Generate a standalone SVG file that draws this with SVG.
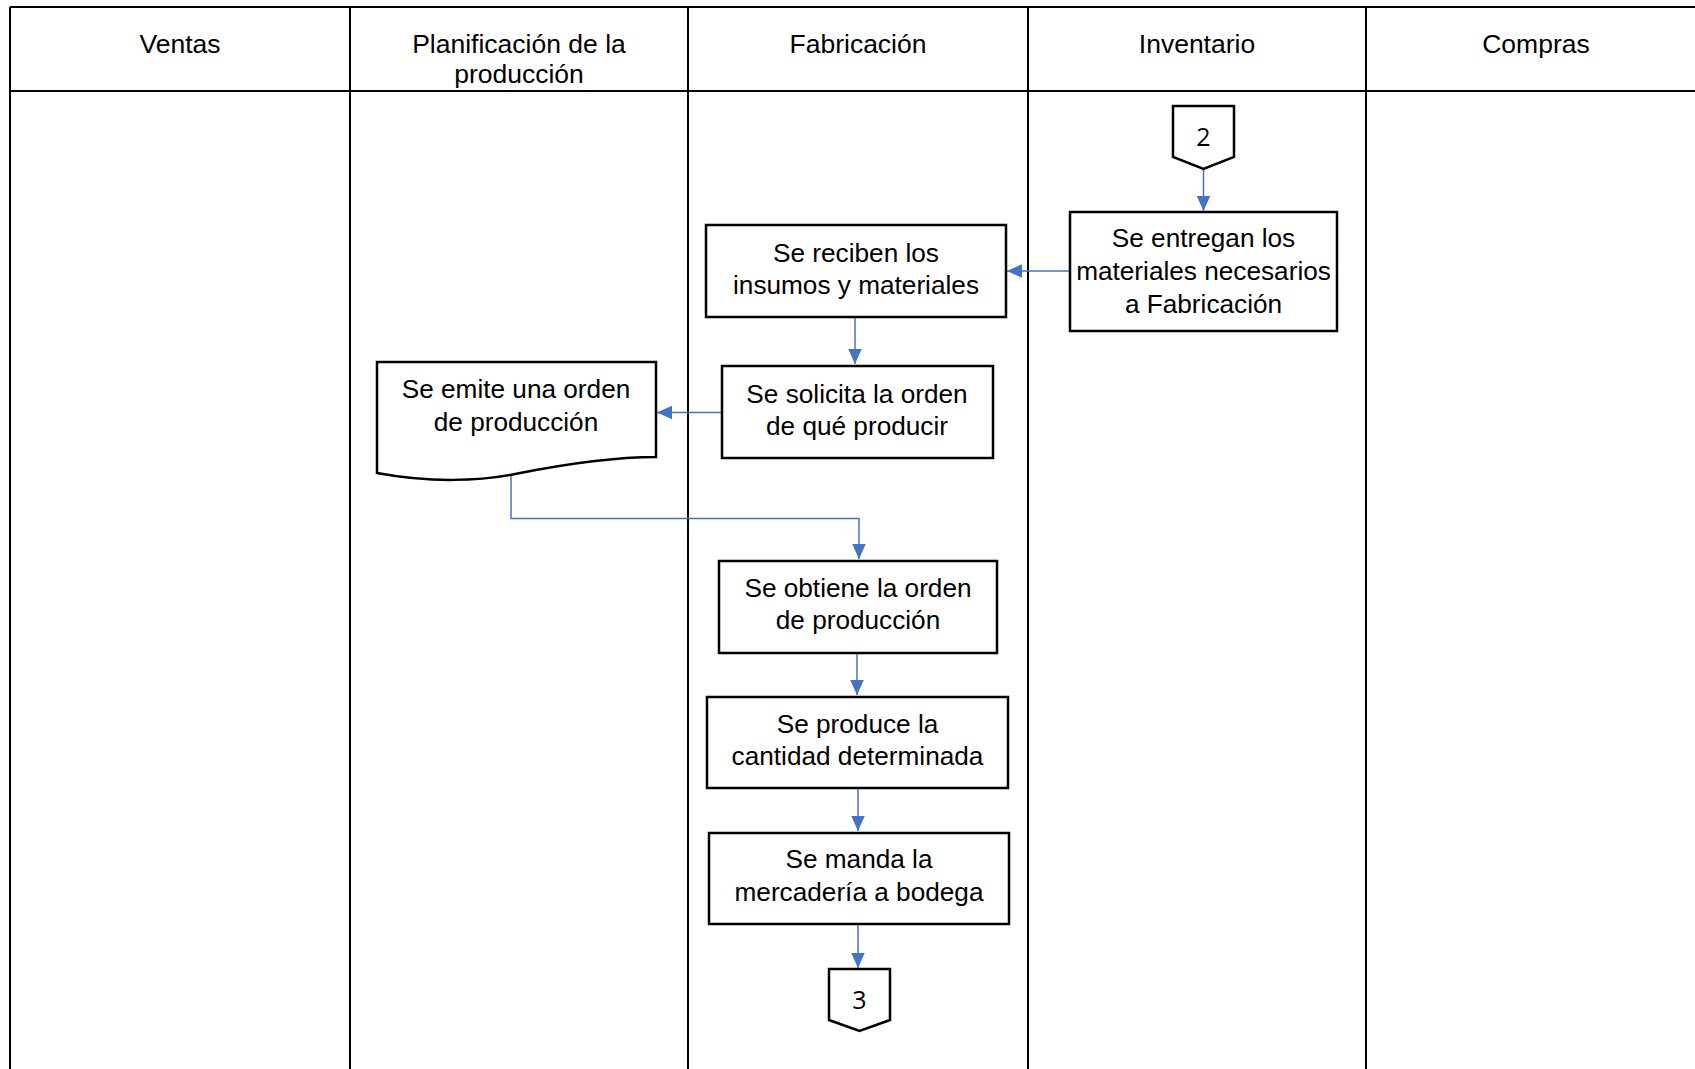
<svg xmlns="http://www.w3.org/2000/svg" width="1695" height="1069" viewBox="0 0 1695 1069">
<defs>
<style>
.grid{stroke:#000;stroke-width:2;fill:none}
.box{fill:#fff;stroke:#000;stroke-width:2.5}
.t{font-family:"Liberation Sans",Arial,sans-serif;font-size:26.2px;fill:#000;text-anchor:middle}
.h{font-family:"Liberation Sans",Arial,sans-serif;font-size:26.5px;fill:#000;text-anchor:middle}
.c{font-family:"Open Sans","Liberation Sans",sans-serif;font-size:25px;fill:#000;text-anchor:middle}
.con{stroke:#4472C4;stroke-width:1.5;fill:none;marker-end:url(#ah)}
</style>
<marker id="ah" viewBox="0 0 10 10" refX="10" refY="5" markerWidth="15" markerHeight="15" markerUnits="userSpaceOnUse" orient="auto">
<path d="M0,0.5 L10,5 L0,9.5 Z" fill="#4472C4"/>
</marker>
</defs>
<rect width="1695" height="1069" fill="#fff"/>
<g id="lanes">
<path class="grid" d="M10,7 H1695 M10,91 H1695 M10,7 V1069 M350,7 V1069 M688,7 V1069 M1028,7 V1069 M1366,7 V1069"/>
<text class="h" x="180" y="53">Ventas</text>
<text class="h" x="519" y="53">Planificación de la</text>
<text class="h" x="519" y="83">producción</text>
<text class="h" x="858" y="53">Fabricación</text>
<text class="h" x="1197" y="53">Inventario</text>
<text class="h" x="1536" y="53">Compras</text>
</g>
<g id="connectors">
<path class="con" d="M1203.5,169 V211"/>
<path class="con" d="M1070,271 H1007"/>
<path class="con" d="M855,317 V364"/>
<path class="con" d="M722,412.5 H657"/>
<path class="con" d="M511,475 V518.5 H859 V559"/>
<path class="con" d="M857,653 V695"/>
<path class="con" d="M858,788 V831"/>
<path class="con" d="M858,924 V968"/>
</g>
<g id="n-c2">
<path class="box" d="M1173,106 H1234 V157 L1203.5,169 L1173,157 Z"/>
<text class="c" x="1203.5" y="146">2</text>
</g>
<g id="n-entregan">
<rect class="box" x="1070" y="212" width="267" height="119"/>
<text class="t" x="1203.5" y="247">Se entregan los</text>
<text class="t" x="1203.5" y="280">materiales necesarios</text>
<text class="t" x="1203.5" y="313">a Fabricación</text>
</g>
<g id="n-reciben">
<rect class="box" x="706" y="225" width="300" height="92"/>
<text class="t" x="856" y="262">Se reciben los</text>
<text class="t" x="856" y="294">insumos y materiales</text>
</g>
<g id="n-solicita">
<rect class="box" x="722" y="366" width="271" height="92"/>
<text class="t" x="857" y="403">Se solicita la orden</text>
<text class="t" x="857" y="435">de qué producir</text>
</g>
<g id="n-emite">
<path class="box" d="M377,362 H656 V457 C610,457 560,465 515,474 C480,481 430,483 377,473 Z"/>
<text class="t" x="516" y="398">Se emite una orden</text>
<text class="t" x="516" y="431">de producción</text>
</g>
<g id="n-obtiene">
<rect class="box" x="719" y="561" width="278" height="92"/>
<text class="t" x="858" y="597">Se obtiene la orden</text>
<text class="t" x="858" y="629">de producción</text>
</g>
<g id="n-produce">
<rect class="box" x="707" y="697" width="301" height="91"/>
<text class="t" x="857.5" y="733">Se produce la</text>
<text class="t" x="857.5" y="765">cantidad determinada</text>
</g>
<g id="n-manda">
<rect class="box" x="709" y="833" width="300" height="91"/>
<text class="t" x="859" y="868">Se manda la</text>
<text class="t" x="859" y="901">mercadería a bodega</text>
</g>
<g id="n-c3">
<path class="box" d="M829,969 H890 V1020 L859.5,1031 L829,1020 Z"/>
<text class="c" x="859.5" y="1009">3</text>
</g>
</svg>
